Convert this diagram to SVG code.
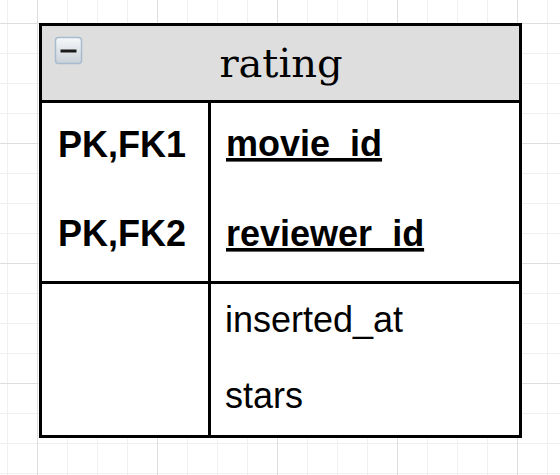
<svg xmlns="http://www.w3.org/2000/svg" width="560" height="475" viewBox="0 0 560 475">
<defs>
<pattern id="minor" x="7" y="23" width="30" height="30" patternUnits="userSpaceOnUse">
<path d="M0.5 0V30M0 0.5H30" fill="none" stroke="#f0f0f0" stroke-width="1"/>
</pattern>
<pattern id="major" x="37" y="23" width="120" height="120" patternUnits="userSpaceOnUse">
<path d="M0.5 0V120M0 0.5H120" fill="none" stroke="#dedede" stroke-width="1"/>
</pattern>
<linearGradient id="ig" x1="0" y1="0" x2="0" y2="1">
<stop offset="0" stop-color="#f6f8fa"/>
<stop offset="1" stop-color="#c9d1d9"/>
</linearGradient>
</defs>
<style>
.b{stroke:#000;stroke-width:3;fill:none}
.k{font-family:"Liberation Sans",Arial,sans-serif;font-size:36px;font-weight:bold;fill:#000}
.f{font-family:"Liberation Sans",Arial,sans-serif;font-size:36px;fill:#000}
.t{font-family:"DejaVu Serif",serif;font-size:40px;fill:#000}
</style>
<rect width="560" height="475" fill="#fff"/>
<rect width="560" height="475" fill="url(#minor)"/>
<rect width="560" height="475" fill="url(#major)"/>
<g id="rating">
<rect x="40.5" y="24.5" width="480" height="412" fill="#fff"/>
<rect x="40.5" y="24.5" width="480" height="77" fill="#dedede"/>
<g id="collapse-icon">
<rect x="55.5" y="37.5" width="26" height="26" rx="3" fill="url(#ig)" stroke="#a9bccf" stroke-width="1.5"/>
<rect x="60.5" y="49.5" width="16" height="3" fill="#1a1a1a"/>
</g>
<text class="t" x="281" y="77" text-anchor="middle">rating</text>
<line class="b" x1="40.5" y1="101.5" x2="520.5" y2="101.5"/>
<line class="b" x1="40.5" y1="282.5" x2="520.5" y2="282.5"/>
<line class="b" x1="209.5" y1="101.5" x2="209.5" y2="436.5"/>
<rect class="b" x="40.5" y="24.5" width="480" height="412"/>
<text class="k" x="58" y="157">PK,FK1</text>
<text class="k" x="58" y="246">PK,FK2</text>
<text class="k" x="226" y="156" text-decoration="underline">movie_id</text>
<text class="k" x="226" y="246" text-decoration="underline">reviewer_id</text>
<text class="f" x="225" y="332">inserted_at</text>
<text class="f" x="225" y="408">stars</text>
</g>
<g id="connectors"/>
</svg>
